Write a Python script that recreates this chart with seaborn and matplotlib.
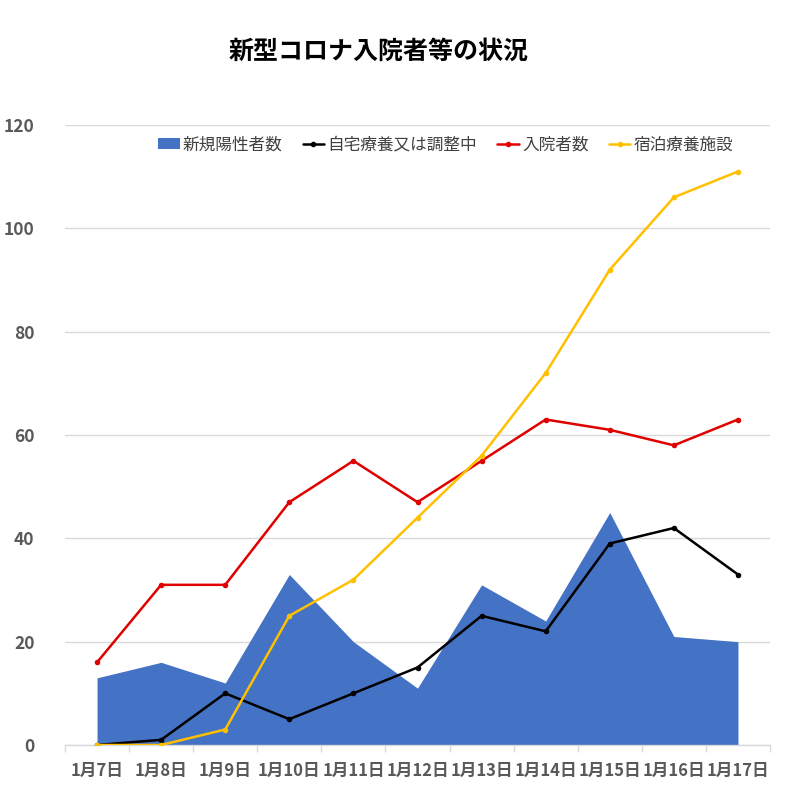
import numpy as np
import matplotlib
matplotlib.use('Agg')
import matplotlib.pyplot as plt
from matplotlib.patches import Patch
from matplotlib.lines import Line2D
import seaborn as sns

# データ
dates = ['1月7日', '1月8日', '1月9日', '1月10日', '1月11日', '1月12日',
         '1月13日', '1月14日', '1月15日', '1月16日', '1月17日']
new_positive = [13, 16, 12, 33, 20, 11, 31, 24, 45, 21, 20]
home_care = [0, 1, 10, 5, 10, 15, 25, 22, 39, 42, 33]
hospitalized = [16, 31, 31, 47, 55, 47, 55, 63, 61, 58, 63]
hotel_care = [0, 0, 3, 25, 32, 44, 56, 72, 92, 106, 111]

sns.set_theme(style='white')
plt.rcParams['font.family'] = ['Noto Sans CJK JP', 'DejaVu Sans']

fig = plt.figure(figsize=(7.85, 8), dpi=100)
ax = fig.add_axes([65 / 785, 55 / 800, 705 / 785, 620 / 800])

x = np.arange(len(dates))

# 新規陽性者数 (面)
ax.fill_between(x, new_positive, 0, color='#4472C4', linewidth=0, zorder=1)

# 折れ線
series = [
    ('自宅療養又は調整中', home_care, '#000000'),
    ('入院者数', hospitalized, '#E00000'),
    ('宿泊療養施設', hotel_care, '#FFC000'),
]
for name, vals, col in series:
    sns.lineplot(x=x, y=vals, ax=ax, color=col, marker='o', markersize=4,
                 markeredgewidth=0, linewidth=1.8, zorder=3)

ax.set_xlim(-0.5, len(dates) - 0.5)
ax.set_ylim(0, 120)
ax.set_yticks(range(0, 121, 20))
ax.set_xticks(x)
ax.set_xticklabels(dates)
ax.set_xticks(np.arange(-0.5, len(dates), 1), minor=True)

ax.grid(axis='y', color='#D9D9D9', linewidth=1, zorder=0)
ax.grid(axis='x', visible=False)
for side in ['top', 'right', 'left']:
    ax.spines[side].set_visible(False)
ax.spines['bottom'].set_color('#D9D9D9')
ax.spines['bottom'].set_linewidth(1)

ax.tick_params(axis='x', which='major', length=0, pad=12,
               labelsize=12, labelcolor='#595959')
ax.tick_params(axis='x', which='minor', bottom=True, length=5,
               color='#D9D9D9', width=1)
ax.tick_params(axis='y', length=0, pad=22, labelsize=12.5,
               labelcolor='#595959')
for lab in ax.get_xticklabels() + ax.get_yticklabels():
    lab.set_fontweight('bold')
ax.set_xlabel('')
ax.set_ylabel('')

handles = [Patch(facecolor='#4472C4', edgecolor='none')]
handles += [Line2D([0], [0], color=c, marker='o', markersize=3, linewidth=1.8)
            for _, _, c in series]
labels = ['新規陽性者数'] + [s[0] for s in series]
ax.legend(handles, labels, loc='center', bbox_to_anchor=(0.54, 0.968),
          ncol=4, frameon=False, fontsize=12, handlelength=1.3,
          handleheight=0.7, handletextpad=0.2, columnspacing=1.2,
          labelcolor='#404040')

fig.text(379 / 785, 1 - 52 / 800, '新型コロナ入院者等の状況', ha='center',
         va='center', fontsize=18, fontweight='bold', color='#000000')

fig.savefig('out.png', dpi=100)
